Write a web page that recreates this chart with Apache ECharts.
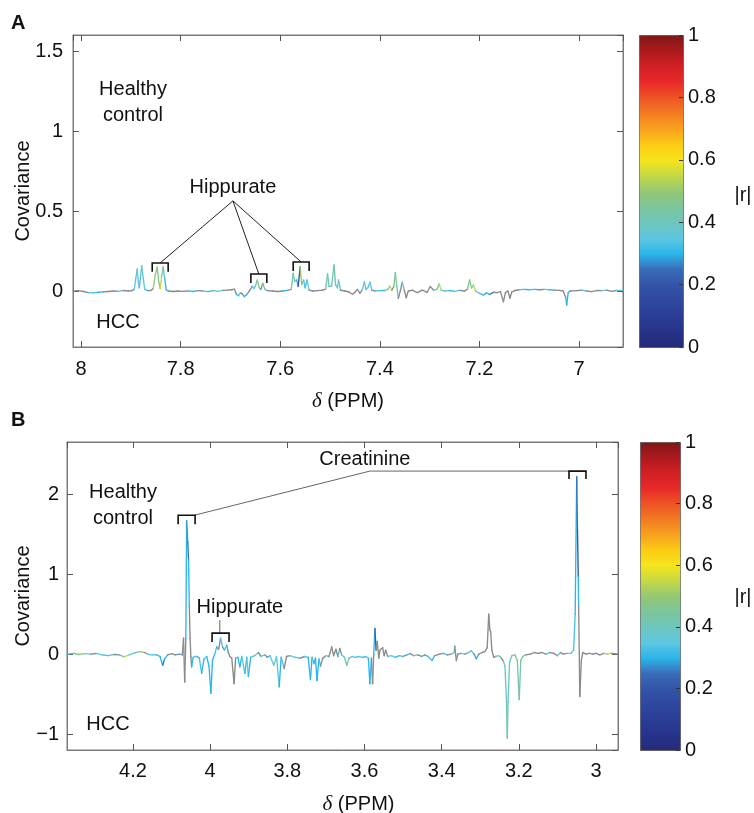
<!DOCTYPE html>
<html><head><meta charset="utf-8">
<script src="https://cdn.jsdelivr.net/npm/echarts@6/dist/echarts.min.js"></script>
<style>html,body{margin:0;padding:0;background:#fff}#c{width:754px;height:813px}</style>
</head><body><div id="c"></div>
<script>
// ---------- Panel A data (δ ppm, covariance, |r|; null = not significant -> gray) ----------
const ppmA = [
8.016,8.005,7.995,7.985,7.975,7.965,7.955,7.945,7.935,7.925,
7.915,7.905,7.898,7.893,7.890,7.887,7.885,7.883,7.880,7.878,
7.875,7.872,7.866,7.860,7.855,7.851,7.847,7.844,7.841,7.838,
7.835,7.832,7.829,7.825,7.815,7.805,7.795,7.785,7.775,7.765,
7.755,7.745,7.735,7.725,7.715,7.705,7.698,7.692,7.688,7.684,
7.680,7.676,7.672,7.668,7.664,7.660,7.656,7.653,7.650,7.646,
7.642,7.639,7.635,7.631,7.626,7.615,7.605,7.595,7.585,7.578,
7.574,7.571,7.567,7.564,7.560,7.557,7.553,7.550,7.546,7.542,
7.535,7.525,7.515,7.509,7.505,7.502,7.497,7.492,7.489,7.485,
7.483,7.479,7.470,7.462,7.455,7.450,7.445,7.440,7.435,7.431,
7.428,7.424,7.420,7.416,7.410,7.400,7.390,7.384,7.380,7.376,
7.372,7.369,7.366,7.363,7.359,7.355,7.351,7.347,7.343,7.335,
7.325,7.315,7.305,7.299,7.292,7.285,7.281,7.277,7.270,7.260,
7.250,7.240,7.230,7.224,7.220,7.216,7.212,7.208,7.200,7.192,
7.186,7.180,7.172,7.165,7.158,7.152,7.148,7.143,7.139,7.135,
7.129,7.120,7.110,7.100,7.090,7.080,7.070,7.060,7.050,7.040,
7.032,7.027,7.025,7.022,7.018,7.005,6.995,6.985,6.975,6.965,
6.955,6.945,6.935,6.925,6.912];
const covA = [
0.000,0.002,-0.003,-0.010,-0.012,-0.008,-0.005,-0.003,0.000,-0.002,
0.003,0.000,0.002,0.010,0.080,0.138,0.060,0.020,0.100,0.159,
0.080,0.010,0.002,0.003,0.015,0.100,0.149,0.060,0.015,0.090,
0.152,0.080,0.008,0.000,-0.003,0.000,-0.002,0.000,-0.003,0.002,
0.000,-0.004,0.003,-0.002,0.004,0.006,0.008,0.012,-0.020,-0.030,
-0.012,-0.018,-0.035,-0.025,-0.008,0.010,0.030,0.015,0.030,0.069,
0.020,0.010,0.048,0.012,0.002,0.000,-0.003,0.000,0.004,0.010,
0.111,0.060,0.069,0.030,0.153,0.040,0.069,0.020,0.069,0.005,
0.000,0.002,0.006,0.012,0.107,0.030,0.030,0.163,0.040,0.020,
0.069,0.005,0.000,-0.006,-0.020,-0.008,0.010,-0.014,0.010,0.058,
0.010,0.020,0.055,0.005,0.000,0.002,0.003,0.010,0.030,0.005,
0.030,0.115,0.030,-0.046,0.000,0.055,0.005,-0.042,0.000,0.005,
-0.010,0.006,-0.008,0.028,0.005,0.012,0.045,0.005,0.000,0.003,
-0.002,0.004,0.000,0.012,0.069,0.020,0.038,0.000,-0.015,-0.025,
-0.012,-0.022,-0.008,-0.010,-0.004,-0.067,-0.010,0.000,-0.045,-0.005,
0.003,0.008,0.010,0.008,0.010,0.008,0.010,0.008,0.006,0.004,
0.000,-0.040,-0.088,-0.010,0.000,0.002,0.005,0.000,-0.004,0.003,
0.002,0.006,-0.002,0.003,0.004];
const rA = [
null,null,null,0.33,0.33,0.30,null,null,null,0.35,
null,null,null,0.35,0.38,0.38,0.35,0.33,0.36,0.38,
0.35,0.33,null,null,0.50,0.50,0.45,0.48,0.55,0.45,
0.38,0.30,0.30,null,null,null,null,0.33,0.30,null,
0.35,0.30,0.40,0.35,null,null,null,null,0.30,0.33,
null,null,0.30,0.30,null,null,0.35,0.35,0.40,0.50,
0.35,null,0.40,0.35,null,null,null,0.30,null,0.40,
0.45,0.40,0.30,0.20,0.50,0.45,0.33,0.33,0.38,null,
null,null,null,0.40,0.45,0.40,0.40,0.42,0.38,0.38,
0.38,null,null,null,null,null,null,null,0.35,0.38,
0.35,0.35,0.38,null,0.35,0.30,0.40,0.50,0.55,null,
0.45,0.48,0.38,null,null,0.35,null,null,null,null,
null,null,null,null,0.35,0.40,0.55,0.35,0.35,0.30,
0.35,null,null,0.45,0.50,0.35,0.55,0.35,0.33,0.30,
0.30,0.25,null,null,null,null,null,null,null,null,
null,0.35,0.30,0.33,0.30,null,0.35,0.30,null,null,
null,0.30,0.30,0.30,null,null,0.35,null,null,null,
0.35,null,null,0.35,null];

// ---------- Panel B data ----------
const ppmB = [
4.371,4.355,4.340,4.325,4.310,4.295,4.280,4.265,4.250,4.235,
4.223,4.210,4.195,4.182,4.170,4.160,4.150,4.140,4.130,4.123,
4.118,4.110,4.100,4.090,4.080,4.072,4.069,4.066,4.063,4.061,
4.058,4.056,4.054,4.052,4.050,4.048,4.044,4.039,4.034,4.028,
4.022,4.016,4.009,4.003,3.998,3.994,3.988,3.983,3.978,3.973,
3.968,3.963,3.957,3.953,3.949,3.944,3.938,3.934,3.928,3.923,
3.918,3.910,3.905,3.901,3.895,3.885,3.875,3.868,3.858,3.852,
3.845,3.835,3.828,3.821,3.816,3.808,3.802,3.793,3.780,3.767,
3.755,3.746,3.740,3.736,3.731,3.727,3.723,3.718,3.714,3.708,
3.700,3.692,3.685,3.680,3.674,3.669,3.664,3.659,3.652,3.646,
3.640,3.632,3.625,3.615,3.605,3.596,3.590,3.586,3.582,3.579,
3.576,3.573,3.570,3.567,3.563,3.560,3.553,3.549,3.545,3.540,
3.530,3.520,3.510,3.500,3.490,3.482,3.472,3.462,3.452,3.444,
3.435,3.425,3.418,3.405,3.395,3.385,3.375,3.368,3.366,3.362,
3.358,3.350,3.340,3.330,3.323,3.316,3.310,3.304,3.295,3.288,
3.282,3.278,3.275,3.273,3.270,3.265,3.260,3.252,3.245,3.240,
3.236,3.232,3.230,3.228,3.224,3.218,3.210,3.204,3.199,3.195,
3.190,3.182,3.170,3.160,3.150,3.140,3.130,3.120,3.110,3.100,
3.092,3.085,3.075,3.065,3.058,3.054,3.050,3.048,3.046,3.045,
3.042,3.038,3.034,3.026,3.018,3.008,3.000,2.990,2.980,2.970,
2.960,2.943];
const covB = [
0.000,0.010,-0.005,0.005,0.000,0.008,-0.010,-0.020,-0.005,-0.010,
-0.035,-0.010,0.015,0.030,0.020,-0.005,-0.010,-0.008,-0.030,-0.140,
-0.060,-0.010,0.005,-0.010,0.000,-0.010,0.200,-0.350,0.200,1.670,
1.400,1.180,0.600,0.200,-0.030,-0.160,-0.040,-0.030,-0.030,-0.050,
-0.240,-0.060,-0.030,-0.150,-0.490,-0.080,0.000,0.090,0.060,0.200,
0.090,0.050,0.110,0.020,-0.030,-0.050,-0.370,-0.050,-0.040,-0.160,
-0.030,-0.240,-0.040,-0.280,-0.040,-0.020,0.020,-0.030,-0.010,-0.040,
-0.020,-0.140,-0.030,-0.410,-0.040,-0.180,-0.030,-0.020,-0.040,-0.050,
-0.030,-0.040,-0.320,-0.040,-0.120,-0.050,-0.330,-0.060,-0.150,-0.050,
-0.020,-0.030,0.090,-0.020,0.060,-0.030,0.070,-0.010,-0.040,-0.140,
-0.050,-0.030,-0.040,-0.030,-0.040,-0.030,-0.050,-0.370,-0.050,-0.370,
0.000,0.320,0.050,0.160,-0.050,0.050,0.080,-0.020,0.050,-0.030,
-0.020,-0.040,-0.020,-0.030,-0.010,0.005,-0.020,-0.010,-0.030,-0.010,
-0.030,-0.080,-0.020,0.000,0.010,-0.010,0.000,0.020,0.100,-0.080,
0.000,0.010,0.000,0.020,0.040,0.000,-0.060,0.000,0.020,0.030,
0.080,0.500,0.300,0.280,0.050,-0.040,-0.030,-0.020,-0.050,-0.090,
-0.150,-0.600,-1.050,-0.600,-0.100,-0.020,-0.010,-0.080,-0.570,-0.080,
-0.030,-0.010,0.000,0.020,0.010,0.020,0.000,0.020,0.010,-0.020,
0.020,0.000,0.010,0.010,0.050,0.500,2.220,1.550,0.970,0.600,
-0.530,-0.080,0.020,0.000,0.010,0.000,0.010,-0.010,0.010,0.000,
0.010,0.000];
const rB = [
0.35,0.45,0.50,0.35,null,0.35,0.33,0.35,null,0.35,
0.55,0.35,0.40,0.50,null,0.35,0.35,0.30,0.30,0.25,
0.30,null,null,null,0.30,null,null,null,0.30,0.28,
0.25,0.30,null,null,null,0.30,0.33,0.35,0.30,0.33,
0.30,0.35,0.30,0.30,0.30,0.30,0.33,0.30,null,0.33,
null,0.33,0.30,null,null,null,null,0.33,0.30,0.30,
0.35,0.30,0.35,0.30,0.33,0.40,null,0.35,null,0.30,
0.35,0.45,0.35,0.30,0.33,null,null,0.35,0.33,null,
0.35,0.30,0.30,0.33,0.30,0.30,0.30,0.33,null,null,
0.35,null,null,null,null,0.33,null,0.35,0.40,0.45,
0.40,0.35,0.33,0.35,0.30,0.35,0.30,0.30,null,null,
0.30,0.22,null,null,null,null,null,null,null,0.35,
0.35,0.30,0.35,null,0.33,null,0.35,null,0.30,null,
0.33,0.30,null,null,0.33,null,0.35,0.40,null,null,
null,0.35,null,0.33,0.33,null,0.30,null,null,null,
null,null,null,null,null,null,0.40,0.45,null,0.40,
0.38,0.40,0.42,0.40,0.40,0.45,0.48,0.45,0.42,0.45,
0.45,null,null,null,null,null,0.33,null,null,0.35,
null,null,0.35,0.35,0.33,0.30,0.25,0.20,0.30,null,
null,null,null,null,null,null,null,null,0.50,0.55,
null,null];

// ---------- Annotations (data coordinates) ----------
const bracketsA = [[7.857, 7.825, 0.176, 0.12], [7.659, 7.627, 0.107, 0.05], [7.574, 7.542, 0.182, 0.125]];
const leadersA = [[[7.695, 0.565], [7.841, 0.176]], [[7.695, 0.565], [7.643, 0.107]], [[7.695, 0.565], [7.558, 0.182]]];
const labelsA = [['Hippurate', 7.695, 0.648]];
const bracketsB = [[4.083, 4.039, 1.7375, 1.625], [3.070, 3.026, 2.29, 2.19], [3.995, 3.951, 0.2625, 0.15]];
const leadersB = [[[4.041, 1.7375], [3.586, 2.29], [3.070, 2.29]], [[3.975, 0.425], [3.975, 0.2625]]];
const labelsB = [['Creatinine', 3.599, 2.43], ['Hippurate', 3.923, 0.58]];

const FONT = '"Liberation Sans", Arial, Helvetica, sans-serif';
const GRAY = '#8a8a8a';
const AXC = '#7a7a7a';
const JET = ['#232a78','#27338a','#2b3d96','#2f489f','#3354a8','#3a6cb8','#2cb6ea','#5ec6e2',
  '#6dc6bc','#7cc59c','#93c874','#c4d846','#f5e51c','#fbcc14','#f8a21e','#f27c22','#ee5424',
  '#e8292a','#d22024','#ad1a1e','#7e1616'];

function segments(ppm, cov, r) {
  const out = [];
  for (let i = 0; i < ppm.length - 1; i++) {
    const sig = r[i] == null ? 0 : 1;
    out.push([ppm[i], cov[i], ppm[i + 1], cov[i + 1], sig ? r[i] : 0, sig]);
  }
  return out;
}
function renderSeg(params, api) {
  const a = api.coord([api.value(0), api.value(1)]);
  const b = api.coord([api.value(2), api.value(3)]);
  return { type: 'line', shape: { x1: a[0], y1: a[1], x2: b[0], y2: b[1] },
    style: { stroke: api.value(5) ? api.visual('color') : GRAY, lineWidth: 1.35, lineCap: 'round' } };
}
function annotRender(brackets, leaders, labels, leaderColor) {
  return function (params, api) {
    const ch = [];
    leaders.forEach(l => ch.push({ type: 'polyline', shape: { points: l.map(p => api.coord(p)) },
      style: { stroke: leaderColor, lineWidth: 1, fill: null } }));
    brackets.forEach(b => {
      const pts = [api.coord([b[0], b[3]]), api.coord([b[0], b[2]]), api.coord([b[1], b[2]]), api.coord([b[1], b[3]])];
      ch.push({ type: 'polyline', shape: { points: pts }, style: { stroke: '#111', lineWidth: 1.6, fill: null } });
    });
    labels.forEach(t => {
      const p = api.coord([t[1], t[2]]);
      ch.push({ type: 'text', x: p[0], y: p[1], style: { text: t[0], font: '20px ' + FONT, fill: '#111',
        align: 'center', verticalAlign: 'middle', textAlign: 'center', textVerticalAlign: 'middle' } });
    });
    return { type: 'group', children: ch };
  };
}
const fmt = v => String(+(+v).toFixed(2)).replace('-', '\u2212');

function mainX(grid, min, max, split, gap, pad, pos, show) {
  return { gridIndex: grid, type: 'value', inverse: true, min: min, max: max, splitNumber: split, position: pos,
    axisLine: { show: true, onZero: false, lineStyle: { color: AXC, width: 1 } },
    axisTick: { show: true, inside: true, length: 6, lineStyle: { color: '#555' } },
    axisLabel: { show: show, color: '#111', fontSize: 20, fontFamily: FONT, margin: gap[0], showMinLabel: false, showMaxLabel: false, formatter: fmt },
    splitLine: { show: false },
    name: show ? '{d|\u03b4} (PPM)' : '', nameLocation: 'middle', nameGap: gap[1],
    nameTextStyle: { color: '#111', fontSize: 20, fontFamily: FONT, padding: pad,
      rich: { d: { fontStyle: 'italic', fontSize: 21, fontFamily: '"Liberation Serif", "DejaVu Serif", serif', color: '#111' } } } };
}
function mainY(grid, min, max, split, gap, pos, show) {
  return { gridIndex: grid, type: 'value', min: min, max: max, splitNumber: split, position: pos,
    axisLine: { show: true, onZero: false, lineStyle: { color: AXC, width: 1 } },
    axisTick: { show: true, inside: true, length: 6, lineStyle: { color: '#555' } },
    axisLabel: { show: show, color: '#111', fontSize: 20, fontFamily: FONT, margin: gap[0], showMinLabel: false, showMaxLabel: false, formatter: fmt },
    splitLine: { show: false },
    name: show ? 'Covariance' : '', nameLocation: 'middle', nameGap: gap[1], nameMoveOverlap: false,
    nameTextStyle: { color: '#111', fontSize: 20, fontFamily: FONT } };
}
function cbY(grid) {
  return { gridIndex: grid, type: 'value', min: 0, max: 1, interval: 0.2, position: 'right', z: 10,
    axisLine: { show: false, onZero: false }, axisTick: { show: true, inside: true, length: 4, lineStyle: { color: '#333' } },
    axisLabel: { color: '#111', fontSize: 20, fontFamily: FONT, margin: 5, formatter: fmt }, splitLine: { show: false } };
}
function cbVM(seriesIndex, left, top, w, h) {
  return { type: 'continuous', seriesIndex: seriesIndex, dimension: 4, min: 0, max: 1, left: left, top: top,
    itemWidth: w, itemHeight: h, calculable: false, padding: 0, borderColor: '#555', borderWidth: 1,
    inRange: { color: JET }, hoverLink: false, z: 1 };
}
const gridBase = { outerBoundsMode: 'none', containLabel: false };

const chart = echarts.init(document.getElementById('c'), null, { renderer: 'canvas' });
chart.setOption({
  animation: false,
  backgroundColor: '#fff',
  grid: [
    Object.assign({ left: 73, top: 35, width: 550, height: 312, show: true, borderColor: AXC, borderWidth: 1 }, gridBase),
    Object.assign({ left: 67, top: 442, width: 551, height: 308, show: true, borderColor: AXC, borderWidth: 1 }, gridBase),
    Object.assign({ left: 639, top: 35, width: 44, height: 312 }, gridBase),
    Object.assign({ left: 640, top: 442, width: 40, height: 308 }, gridBase)
  ],
  xAxis: [
    mainX(0, 6.912, 8.016, 5, [12, 44], [0, 0, 0, 0], 'bottom', true),
    mainX(0, 6.912, 8.016, 5, [12, 44], [0, 0, 0, 0], 'top', false),
    mainX(1, 2.943, 4.371, 7, [11, 44], [0, 0, 0, 32], 'bottom', true),
    mainX(1, 2.943, 4.371, 7, [11, 44], [0, 0, 0, 0], 'top', false),
    { gridIndex: 2, type: 'value', min: 0, max: 1, show: false },
    { gridIndex: 3, type: 'value', min: 0, max: 1, show: false }
  ],
  yAxis: [
    mainY(0, -0.351, 1.605, 4, [10, 40], 'left', true),
    mainY(0, -0.351, 1.605, 4, [10, 40], 'right', false),
    mainY(1, -1.2, 2.654, 4, [8, 34], 'left', true),
    mainY(1, -1.2, 2.654, 4, [8, 34], 'right', false),
    cbY(2), cbY(3)
  ],
  visualMap: [cbVM(0, 639, 35, 44, 312), cbVM(1, 640, 442, 40, 308)],
  series: [
    { type: 'custom', xAxisIndex: 0, yAxisIndex: 0, renderItem: renderSeg, encode: { x: [0, 2], y: [1, 3] },
      data: segments(ppmA, covA, rA), silent: true },
    { type: 'custom', xAxisIndex: 2, yAxisIndex: 2, renderItem: renderSeg, encode: { x: [0, 2], y: [1, 3] },
      data: segments(ppmB, covB, rB), silent: true },
    { type: 'custom', xAxisIndex: 0, yAxisIndex: 0, renderItem: annotRender(bracketsA, leadersA, labelsA, '#222'),
      encode: { x: 0, y: 1 }, data: [[7.7, 0.5]], silent: true, z: 5 },
    { type: 'custom', xAxisIndex: 2, yAxisIndex: 2, renderItem: annotRender(bracketsB, leadersB, labelsB, '#666'),
      encode: { x: 0, y: 1 }, data: [[3.9, 0.5]], silent: true, z: 5 }
  ],
  graphic: [
    { type: 'text', left: 11, top: 13, style: { text: 'A', font: 'bold 20px ' + FONT, fill: '#111' } },
    { type: 'text', left: 11, top: 410, style: { text: 'B', font: 'bold 20px ' + FONT, fill: '#111' } },
    { type: 'text', x: 133, y: 102, style: { text: 'Healthy\ncontrol', font: '20px ' + FONT, fill: '#111', lineHeight: 26,
      align: 'center', verticalAlign: 'middle', textAlign: 'center', textVerticalAlign: 'middle' } },
    { type: 'text', x: 118, y: 322, style: { text: 'HCC', font: '20px ' + FONT, fill: '#111',
      align: 'center', verticalAlign: 'middle', textAlign: 'center', textVerticalAlign: 'middle' } },
    { type: 'text', x: 123, y: 505, style: { text: 'Healthy\ncontrol', font: '20px ' + FONT, fill: '#111', lineHeight: 26,
      align: 'center', verticalAlign: 'middle', textAlign: 'center', textVerticalAlign: 'middle' } },
    { type: 'text', x: 108, y: 724, style: { text: 'HCC', font: '20px ' + FONT, fill: '#111',
      align: 'center', verticalAlign: 'middle', textAlign: 'center', textVerticalAlign: 'middle' } },
    { type: 'text', x: 743, y: 195, style: { text: '|r|', font: '20px ' + FONT, fill: '#111',
      align: 'center', verticalAlign: 'middle', textAlign: 'center', textVerticalAlign: 'middle' } },
    { type: 'text', x: 743, y: 597, style: { text: '|r|', font: '20px ' + FONT, fill: '#111',
      align: 'center', verticalAlign: 'middle', textAlign: 'center', textVerticalAlign: 'middle' } }
  ]
});
</script></body></html>
